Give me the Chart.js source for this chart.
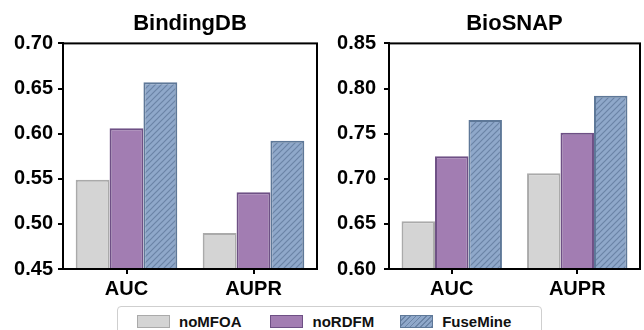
<!DOCTYPE html>
<html>
<head>
<meta charset="utf-8">
<script src="https://cdn.jsdelivr.net/npm/chart.js@4.4.1/dist/chart.umd.min.js"></script>
<style>
  body { margin: 0; background: #fff; font-family: "Liberation Sans", Arial, sans-serif; }
  #wrap { position: relative; width: 644px; height: 330px; overflow: hidden; }
  .panel { position: absolute; top: 0; width: 322px; height: 304px; }
  #left { left: 0; }
  #right { left: 322px; }
  #legend {
    position: absolute; left: 117px; top: 306px; width: 425px; height: 30px;
    border: 1px solid #cfcfcf; border-radius: 4px; box-sizing: border-box;
    display: flex; align-items: flex-start; padding-top: 6px; padding-left: 19px;
    font-weight: bold; font-size: 15px; color: #111;
  }
  .item { display: flex; align-items: center; }
  .sw { width: 31px; height: 11px; margin-right: 9px; border: 1px solid; }
</style>
</head>
<body>
<div id="wrap">
  <div class="panel" id="left"><canvas id="bindingChart" width="322" height="304"></canvas></div>
  <div class="panel" id="right"><canvas id="biosnapChart" width="322" height="304"></canvas></div>
  <div id="legend"></div>
</div>
<script>
const categories = ['AUC', 'AUPR'];
const seriesNames = ['noMFOA', 'noRDFM', 'FuseMine'];

const bindingNoMFOA = [0.549, 0.490];
const bindingNoRDFM = [0.606, 0.535];
const bindingFuseMine = [0.657, 0.592];

const biosnapNoMFOA = [0.653, 0.706];
const biosnapNoRDFM = [0.725, 0.751];
const biosnapFuseMine = [0.765, 0.792];

const bindingTicks = [0.45, 0.50, 0.55, 0.60, 0.65, 0.70];
const biosnapTicks = [0.60, 0.65, 0.70, 0.75, 0.80, 0.85];

const fontFamily = '"Liberation Sans", Arial, sans-serif';

function hatchPattern() {
    const c = document.createElement('canvas');
    c.width = 6; c.height = 6;
    const g = c.getContext('2d');
    g.fillStyle = '#8fa8ca';
    g.fillRect(0, 0, 6, 6);
    g.strokeStyle = '#6b84a6';
    g.lineWidth = 1.2;
    g.beginPath();
    g.moveTo(0, 6); g.lineTo(6, 0);
    g.moveTo(-3, 3); g.lineTo(3, -3);
    g.moveTo(3, 9); g.lineTo(9, 3);
    g.stroke();
    return g.createPattern(c, 'repeat');
}

const fills = ['#d4d4d4', '#a27db2', null];
const borders = ['#aaaaaa', '#6e5085', '#5e7898'];

// draws the box around the plot area
const framePlugin = {
    id: 'frame',
    afterDraw(chart) {
        const a = chart.chartArea;
        const ctx = chart.ctx;
        ctx.save();
        ctx.strokeStyle = '#000';
        ctx.lineWidth = 2;
        ctx.strokeRect(a.left, a.top, a.right - a.left, a.bottom - a.top);
        ctx.restore();
    }
};

function makeChart(id, title, values, ticks, axisWidth, rightPad, labelPad) {
    const ctx = document.getElementById(id).getContext('2d');
    const pattern = hatchPattern();
    return new Chart(ctx, {
        type: 'bar',
        data: {
            labels: categories,
            datasets: values.map((v, i) => ({
                label: seriesNames[i],
                data: v,
                backgroundColor: fills[i] || pattern,
                borderColor: borders[i],
                borderWidth: 2,
                categoryPercentage: 0.8,
                barPercentage: 1.0
            }))
        },
        options: {
            responsive: false,
            animation: false,
            layout: { padding: { left: 0, right: rightPad, top: 0, bottom: 0 } },
            plugins: {
                legend: { display: false },
                tooltip: { enabled: false },
                title: {
                    display: true,
                    fullSize: false,
                    text: title,
                    color: '#000',
                    font: { family: fontFamily, size: 22, weight: 'bold' },
                    padding: { top: 11, bottom: 6 }
                }
            },
            scales: {
                x: {
                    grid: { display: true, drawOnChartArea: false, drawTicks: true, tickLength: 5, color: '#000', lineWidth: 2, offset: false },
                    border: { display: true, color: '#000', width: 2 },
                    ticks: { color: '#000', padding: 3, font: { family: fontFamily, size: 20, weight: 'bold' } }
                },
                y: {
                    min: ticks[0],
                    max: ticks[ticks.length - 1],
                    afterBuildTicks(scale) {
                        scale.ticks = ticks.map(t => ({ value: t }));
                    },
                    afterFit(scale) { scale.width = axisWidth; },
                    grid: { display: true, drawOnChartArea: false, drawTicks: true, tickLength: 5, color: '#000', lineWidth: 2 },
                    border: { display: true, color: '#000', width: 2 },
                    ticks: {
                        color: '#000',
                        padding: labelPad,
                        font: { family: fontFamily, size: 20, weight: 'bold' },
                        callback: v => Number(v).toFixed(2)
                    }
                }
            }
        },
        plugins: [framePlugin]
    });
}

makeChart('bindingChart', 'BindingDB', [bindingNoMFOA, bindingNoRDFM, bindingFuseMine], bindingTicks, 63, 5, 5);
makeChart('biosnapChart', 'BioSNAP', [biosnapNoMFOA, biosnapNoRDFM, biosnapFuseMine], biosnapTicks, 67, 4, 8);

// shared legend
const legend = document.getElementById('legend');
const swatchBg = ['#d4d4d4', '#a27db2', 'repeating-linear-gradient(135deg, #8fa8ca 0 2.5px, #6b84a6 2.5px 3.7px)'];
const gaps = [29, 26, 0];
seriesNames.forEach((name, i) => {
    const item = document.createElement('div');
    item.className = 'item';
    item.style.marginRight = gaps[i] + 'px';
    const sw = document.createElement('div');
    sw.className = 'sw';
    sw.style.background = swatchBg[i];
    sw.style.borderColor = borders[i];
    const txt = document.createElement('span');
    txt.textContent = name;
    item.appendChild(sw);
    item.appendChild(txt);
    legend.appendChild(item);
});
</script>
</body>
</html>
